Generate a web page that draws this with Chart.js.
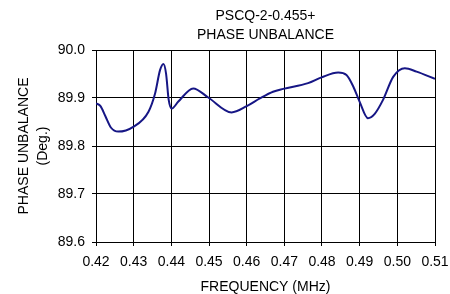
<!DOCTYPE html>
<html>
<head>
<meta charset="utf-8">
<script src="https://cdn.jsdelivr.net/npm/chart.js@4/dist/chart.umd.min.js"></script>
<style>
  html, body { margin: 0; padding: 0; background: #fff; }
  #wrap { width: 450px; height: 294px; position: relative; }
</style>
</head>
<body>
<div id="wrap"><canvas id="c"></canvas></div>
<script>
const titleLines = ['PSCQ-2-0.455+', 'PHASE UNBALANCE'];
const xTitle = 'FREQUENCY (MHz)';
const yTitle = ['PHASE UNBALANCE', '(Deg.)'];
const xTicks = [0.42, 0.43, 0.44, 0.45, 0.46, 0.47, 0.48, 0.49, 0.50, 0.51];
const yTicks = [89.6, 89.7, 89.8, 89.9, 90.0];
const freq = [0.4200, 0.4212, 0.4225, 0.4240, 0.4259, 0.4299, 0.4339, 0.4357, 0.4370, 0.4379, 0.4386, 0.4393, 0.4401, 0.4418, 0.4458, 0.4498, 0.4560, 0.4600, 0.4635, 0.4670, 0.4697, 0.4763, 0.4799, 0.4843, 0.4865, 0.4883, 0.4900, 0.4922, 0.4940, 0.4962, 0.4989, 0.5020, 0.5051, 0.5100];
const phase = [89.889, 89.883, 89.862, 89.838, 89.830, 89.840, 89.871, 89.910, 89.958, 89.971, 89.951, 89.896, 89.878, 89.892, 89.920, 89.901, 89.870, 89.883, 89.899, 89.913, 89.919, 89.931, 89.943, 89.953, 89.948, 89.924, 89.892, 89.858, 89.867, 89.896, 89.944, 89.962, 89.955, 89.940];

const FONT = "'Liberation Sans', Arial, sans-serif";
const points = freq.map((f, i) => ({ x: f, y: phase[i] }));

// Title centred over the plot area (as in the reference)
const plotTitle = {
  id: 'plotTitle',
  afterDraw(chart) {
    const { ctx, chartArea } = chart;
    const cx = (chartArea.left + chartArea.right) / 2;
    ctx.save();
    ctx.fillStyle = '#000';
    ctx.font = '14px ' + FONT;
    ctx.textAlign = 'center';
    ctx.textBaseline = 'middle';
    titleLines.forEach((t, i) => ctx.fillText(t, cx, 16.5 + i * 18.5));
    ctx.restore();
  }
};

new Chart(document.getElementById('c'), {
  type: 'line',
  data: {
    datasets: [{
      data: points,
      borderColor: '#161685',
      borderWidth: 2,
      pointRadius: 0,
      cubicInterpolationMode: 'monotone',
      fill: false
    }]
  },
  plugins: [plotTitle],
  options: {
    responsive: true,
    maintainAspectRatio: false,
    animation: false,
    layout: { padding: { left: 0, right: 15, top: 50, bottom: 0 } },
    plugins: {
      legend: { display: false },
      tooltip: { enabled: false },
      title: { display: false }
    },
    scales: {
      x: {
        type: 'linear',
        min: xTicks[0],
        max: xTicks[xTicks.length - 1],
        afterBuildTicks: (s) => { s.ticks = xTicks.map(v => ({ value: v })); },
        afterFit: (s) => { s.height = 52; s.paddingRight = 0; s.paddingLeft = 0; },
        ticks: {
          color: '#000',
          font: { family: FONT, size: 14 },
          padding: 8,
          maxRotation: 0,
          autoSkip: false,
          callback: (v) => Number(v).toFixed(2)
        },
        grid: { color: '#000', lineWidth: 1, tickLength: 4, drawTicks: true },
        border: { color: '#000', width: 1 },
        title: {
          display: true,
          text: xTitle,
          color: '#000',
          font: { family: FONT, size: 14, lineHeight: 1.0 },
          padding: { top: 0, bottom: 0 }
        }
      },
      y: {
        type: 'linear',
        min: yTicks[0],
        max: yTicks[yTicks.length - 1],
        afterBuildTicks: (s) => { s.ticks = yTicks.map(v => ({ value: v })); },
        afterFit: (s) => { s.width = 96; s.paddingTop = 0; s.paddingBottom = 0; },
        ticks: {
          color: '#000',
          font: { family: FONT, size: 14 },
          padding: 7,
          autoSkip: false,
          callback: (v) => Number(v).toFixed(1)
        },
        grid: { color: '#000', lineWidth: 1, tickLength: 4, drawTicks: true },
        border: { color: '#000', width: 1 },
        title: {
          display: true,
          text: yTitle,
          color: '#000',
          font: { family: FONT, size: 14, lineHeight: 1.357 },
          padding: { top: 15, bottom: 0 }
        }
      }
    }
  }
});
</script>
</body>
</html>
